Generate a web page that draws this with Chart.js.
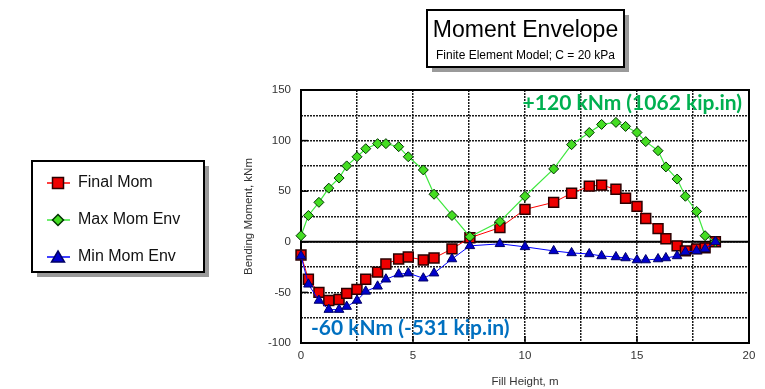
<!DOCTYPE html>
<html>
<head>
<meta charset="utf-8">
<title>Moment Envelope</title>
<script src="https://cdn.jsdelivr.net/npm/chart.js@4.4.1/dist/chart.umd.min.js"></script>
<style>
  html, body { margin: 0; padding: 0; background: #fff; }
  #wrap { width: 765px; height: 389px; }
</style>
</head>
<body>
<div id="wrap"><canvas id="momentChart" width="765" height="389"></canvas></div>
<script>
// ---- data ----
const fillHeight = [0, 0.33, 0.8, 1.24, 1.7, 2.04, 2.5, 2.89, 3.42, 3.79, 4.36, 4.79, 5.46, 5.94, 6.74, 7.54,
  8.88, 10.0, 11.28, 12.08, 12.87, 13.42, 14.06, 14.49, 15.0, 15.39, 15.94, 16.29, 16.79, 17.16, 17.66, 18.04, 18.5];

const finalMom = [-13, -37, -50, -58, -57, -51, -47, -37, -30, -22, -17, -15, -18, -16, -7, 4,
  14, 32, 39, 48, 55, 56, 52, 43, 35, 23, 13, 3, -4, -9, -7, -6, 0];

const maxMomEnv = [6, 26, 39, 53, 63, 75, 84, 92, 97, 97, 94, 84, 71, 47, 26, 5,
  20, 45, 72, 96, 108, 116, 118, 114, 108, 99, 90, 74, 62, 45, 30, 6, 0];

const minMomEnv = [-14, -42, -58, -67, -67, -64, -58, -49, -44, -37, -32, -31, -36, -31, -17, -4,
  -2, -5, -9, -11, -12, -14, -15, -16, -18, -18, -17, -16, -14, -10, -9, -7, 0];

const seriesNames = ['Final Mom', 'Max Mom Env', 'Min Mom Env'];
const xTickLabels = ['0', '5', '10', '15', '20'];
const yTickLabels = ['-100', '-50', '0', '50', '100', '150'];

const chartTitle = 'Moment Envelope';
const chartSubtitle = 'Finite Element Model; C = 20 kPa';
const maxNote = '+120 kNm (1062 kip.in)';
const minNote = '-60 kNm (-531 kip.in)';

// ---- styles ----
const lineColors = ['#ff0000', '#3fe83f', '#0000ff'];
const fillColors = ['#ee0000', '#44dd22', '#0000cc'];
const edgeColors = ['#2a0000', '#003300', '#000066'];
const shapes = ['rect', 'rectRot', 'triangle'];
const axisFont = { family: "'Liberation Sans', Arial, sans-serif", size: 11.5 };

function toPoints(ys) {
  return ys.map((y, i) => ({ x: fillHeight[i], y: y }));
}

// small helper for legend markers
function marker(ctx, shape, x, y, fill, edge) {
  ctx.save();
  ctx.fillStyle = fill;
  ctx.strokeStyle = edge;
  ctx.lineWidth = 1.5;
  ctx.beginPath();
  if (shape === 'rect') {
    ctx.rect(x - 5.5, y - 5.5, 11, 11);
  } else if (shape === 'rectRot') {
    ctx.moveTo(x, y - 5.5); ctx.lineTo(x + 5.5, y); ctx.lineTo(x, y + 5.5); ctx.lineTo(x - 5.5, y);
    ctx.closePath();
  } else {
    ctx.moveTo(x, y - 6); ctx.lineTo(x + 6.5, y + 5); ctx.lineTo(x - 6.5, y + 5);
    ctx.closePath();
  }
  ctx.fill();
  ctx.stroke();
  ctx.restore();
}

function shadowBox(ctx, x, y, w, h) {
  ctx.save();
  ctx.fillStyle = '#9a9a9a';
  ctx.fillRect(x + 5, y + 5, w, h);
  ctx.fillStyle = '#fff';
  ctx.fillRect(x, y, w, h);
  ctx.strokeStyle = '#000';
  ctx.lineWidth = 2;
  ctx.strokeRect(x, y, w, h);
  ctx.restore();
}

const decorations = {
  id: 'decorations',
  beforeDraw(chart) {
    const ctx = chart.ctx;
    ctx.save();
    ctx.fillStyle = '#fff';
    ctx.fillRect(0, 0, chart.width, chart.height);
    ctx.restore();
  },
  beforeDatasetsDraw(chart) {
    const ctx = chart.ctx;
    const a = chart.chartArea;
    const xs = chart.scales.x, ys = chart.scales.y;
    ctx.save();
    // zero line
    ctx.strokeStyle = '#000';
    ctx.lineWidth = 2;
    ctx.beginPath();
    ctx.moveTo(a.left, ys.getPixelForValue(0));
    ctx.lineTo(a.right, ys.getPixelForValue(0));
    ctx.stroke();
    // short inside ticks
    ctx.lineWidth = 1.5;
    yTickLabels.forEach(t => {
      const py = ys.getPixelForValue(+t);
      ctx.beginPath(); ctx.moveTo(a.left, py); ctx.lineTo(a.left + 7, py); ctx.stroke();
    });
    xTickLabels.forEach(t => {
      const px = xs.getPixelForValue(+t);
      ctx.beginPath(); ctx.moveTo(px, a.bottom); ctx.lineTo(px, a.bottom - 7); ctx.stroke();
    });
    // plot frame
    ctx.lineWidth = 2;
    ctx.strokeRect(a.left, a.top, a.right - a.left, a.bottom - a.top);
    ctx.restore();
  },
  afterDraw(chart) {
    const ctx = chart.ctx;
    ctx.save();

    // title box
    shadowBox(ctx, 427, 10, 197, 57);
    ctx.fillStyle = '#000';
    ctx.textAlign = 'center';
    ctx.textBaseline = 'alphabetic';
    ctx.font = "23px 'Liberation Sans', Arial, sans-serif";
    ctx.fillText(chartTitle, 525.5, 37);
    ctx.font = "12px 'Liberation Sans', Arial, sans-serif";
    ctx.fillText(chartSubtitle, 525.5, 59);

    // legend box
    shadowBox(ctx, 32, 161, 172, 111);
    ctx.textAlign = 'left';
    ctx.textBaseline = 'middle';
    ctx.font = "16px 'Liberation Sans', Arial, sans-serif";
    const rows = [183, 220, 257];
    seriesNames.forEach((name, i) => {
      const y = rows[i];
      ctx.strokeStyle = lineColors[i];
      ctx.lineWidth = 1.5;
      ctx.beginPath(); ctx.moveTo(47, y); ctx.lineTo(70, y); ctx.stroke();
      marker(ctx, shapes[i], 58, y, fillColors[i], edgeColors[i]);
      ctx.fillStyle = '#111';
      ctx.fillText(name, 78, y);
    });

    // peak notes
    ctx.textBaseline = 'alphabetic';
    ctx.font = "bold 21px Lato, 'Open Sans', sans-serif";
    ctx.fillStyle = '#00b050';
    ctx.textAlign = 'right';
    ctx.fillText(maxNote, 742, 110);
    ctx.fillStyle = '#0070c0';
    ctx.textAlign = 'left';
    ctx.fillText(minNote, 311, 335);

    ctx.restore();
  }
};

const ctx = document.getElementById('momentChart');

new Chart(ctx, {
  type: 'line',
  data: {
    datasets: [
      {
        label: seriesNames[0],
        data: toPoints(finalMom),
        borderColor: lineColors[0],
        backgroundColor: fillColors[0],
        pointBorderColor: edgeColors[0],
        pointStyle: shapes[0],
        pointRadius: 7,
        pointBorderWidth: 1.5,
        borderWidth: 1,
        clip: false,
        order: 2
      },
      {
        label: seriesNames[1],
        data: toPoints(maxMomEnv),
        borderColor: lineColors[1],
        backgroundColor: fillColors[1],
        pointBorderColor: edgeColors[1],
        pointStyle: shapes[1],
        pointRadius: 5,
        pointBorderWidth: 1,
        borderWidth: 1.2,
        clip: false,
        order: 1
      },
      {
        label: seriesNames[2],
        data: toPoints(minMomEnv),
        borderColor: lineColors[2],
        backgroundColor: fillColors[2],
        pointBorderColor: edgeColors[2],
        pointStyle: shapes[2],
        pointRadius: 5.5,
        pointBorderWidth: 1,
        borderWidth: 1,
        clip: false,
        order: 0
      }
    ]
  },
  options: {
    responsive: false,
    devicePixelRatio: 1,
    animation: false,
    layout: { padding: { left: 242, right: 16, top: 90, bottom: 0 } },
    plugins: {
      legend: { display: false },
      tooltip: { enabled: false }
    },
    scales: {
      x: {
        type: 'linear',
        min: 0,
        max: 20,
        afterFit(scale) { scale.height = 46; },
        ticks: {
          stepSize: 2.5,
          maxRotation: 0,
          padding: 6,
          color: '#333',
          font: axisFont,
          callback: v => xTickLabels.includes(String(v)) ? String(v) : ''
        },
        grid: { color: '#1a1a1a', lineWidth: 1.5, drawTicks: false },
        border: { display: false, dash: [2, 1] },
        title: {
          display: true,
          text: 'Fill Height, m',
          color: '#333',
          font: axisFont,
          padding: 0
        }
      },
      y: {
        min: -100,
        max: 150,
        afterFit(scale) { scale.width = 59; },
        ticks: {
          stepSize: 25,
          padding: 10,
          color: '#333',
          font: axisFont,
          callback: v => yTickLabels.includes(String(v)) ? String(v) : ''
        },
        grid: { color: '#1a1a1a', lineWidth: 1.5, drawTicks: false },
        border: { display: false, dash: [2, 1] },
        title: {
          display: true,
          text: 'Bending Moment, kNm',
          color: '#333',
          font: axisFont,
          padding: 0
        }
      }
    }
  },
  plugins: [decorations]
});
</script>
</body>
</html>
